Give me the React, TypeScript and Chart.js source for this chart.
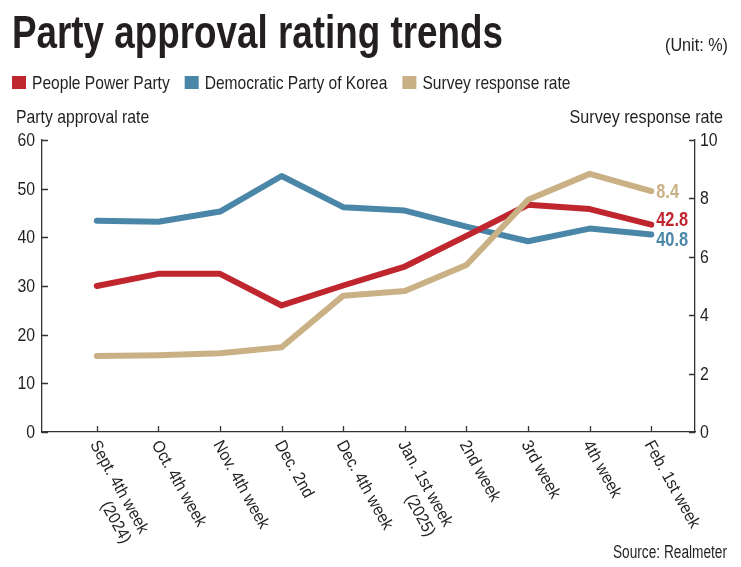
import { useEffect, useRef } from "react";
import { Chart, registerables } from "chart.js";

Chart.register(...registerables);

const categories: string[][] = [
  ["Sept. 4th week", "(2024)"],
  ["Oct. 4th week"],
  ["Nov. 4th week"],
  ["Dec. 2nd"],
  ["Dec. 4th week"],
  ["Jan. 1st week", "(2025)"],
  ["2nd week"],
  ["3rd week"],
  ["4th week"],
  ["Feb. 1st week"],
];
const pppValues = [30.0, 32.5, 32.5, 26.0, 30.1, 34.0, 40.3, 46.7, 45.8, 42.6];
const dpkValues = [43.4, 43.2, 45.3, 52.6, 46.2, 45.5, 42.2, 39.2, 41.8, 40.6];
const responseValues = [2.6, 2.63, 2.7, 2.9, 4.67, 4.83, 5.72, 7.95, 8.84, 8.25];
const endLabels = ["42.8", "40.8", "8.4"];
const leftTicks = [0, 10, 20, 30, 40, 50, 60];
const rightTicks = [0, 2, 4, 6, 8, 10];
const seriesNames = ["People Power Party", "Democratic Party of Korea", "Survey response rate"];

const RED = "#c0262e";
const BLUE = "#4a86a8";
const TAN = "#c9b185";
const INK = "#231f20";
const FONT = '"Liberation Sans", Arial, Helvetica, sans-serif';

function drawText(
  ctx: CanvasRenderingContext2D,
  text: string,
  x: number,
  y: number,
  size: number,
  sx: number,
  align: CanvasTextAlign = "left",
  bold = false,
  baseline: CanvasTextBaseline = "alphabetic"
) {
  ctx.save();
  ctx.font = `${bold ? "bold " : ""}${size}px ${FONT}`;
  ctx.translate(x, y);
  ctx.scale(sx, 1);
  ctx.textAlign = align;
  ctx.textBaseline = baseline;
  ctx.fillText(text, 0, 0);
  ctx.restore();
}

const decor = {
  id: "decor",
  afterDraw(chart: any) {
    const ctx: CanvasRenderingContext2D = chart.ctx;
    const xs = chart.scales.x;
    const yl = chart.scales.y;
    const yr = chart.scales.y2;
    const area = chart.chartArea;
    ctx.save();
    ctx.fillStyle = INK;

    // Title condensed to target width
    ctx.font = `bold 47px ${FONT}`;
    const title = "Party approval rating trends";
    const tw = ctx.measureText(title).width;
    drawText(ctx, title, 12, 48, 47, 491 / tw, "left", true);

    drawText(ctx, "(Unit: %)", 728, 51, 18, 0.9, "right");

    // Legend
    const colors = [RED, BLUE, TAN];
    const lsx = 0.82;
    const lsize = 19;
    let lx = 12;
    seriesNames.forEach((name, i) => {
      ctx.fillStyle = colors[i];
      ctx.fillRect(lx, 76, 14, 13);
      ctx.fillStyle = INK;
      drawText(ctx, name, lx + 20, 89, lsize, lsx, "left");
      ctx.font = `${lsize}px ${FONT}`;
      lx += 20 + ctx.measureText(name).width * lsx + 15;
    });

    // Axis titles
    drawText(ctx, "Party approval rate", 16, 123, 19, 0.83, "left");
    drawText(ctx, "Survey response rate", 723, 123, 19, 0.85, "right");

    // Source
    drawText(ctx, "Source: Realmeter", 727, 558, 18, 0.76, "right");

    // Y tick labels
    leftTicks.forEach((v) => {
      drawText(ctx, String(v), area.left - 7, yl.getPixelForValue(v) + 1, 18, 0.88, "right", false, "middle");
    });
    rightTicks.forEach((v) => {
      drawText(ctx, String(v), area.right + 5, yr.getPixelForValue(v) + 1, 18, 0.88, "left", false, "middle");
    });

    // Inward tick marks
    ctx.strokeStyle = "#333";
    ctx.lineWidth = 1.3;
    ctx.beginPath();
    leftTicks.forEach((v) => {
      const y = Math.round(yl.getPixelForValue(v)) + 0.5;
      ctx.moveTo(area.left, y);
      ctx.lineTo(area.left + 6, y);
    });
    rightTicks.forEach((v) => {
      const y = Math.round(yr.getPixelForValue(v)) + 0.5;
      ctx.moveTo(area.right - 6, y);
      ctx.lineTo(area.right, y);
    });
    categories.forEach((_, i) => {
      const x = Math.round(xs.getPixelForValue(i)) + 0.5;
      ctx.moveTo(x, area.bottom);
      ctx.lineTo(x, area.bottom - 6);
    });
    ctx.stroke();

    // Rotated category labels (reading downward)
    const ang = (61 * Math.PI) / 180;
    const xsx = 0.92;
    ctx.fillStyle = INK;
    categories.forEach((lines, i) => {
      const x = xs.getPixelForValue(i);
      ctx.save();
      ctx.translate(x - 3, area.bottom + 10);
      ctx.rotate(ang);
      ctx.scale(xsx, 1);
      ctx.font = `17px ${FONT}`;
      ctx.textBaseline = "middle";
      ctx.textAlign = "left";
      ctx.fillText(lines[0], 0, 0);
      if (lines.length > 1) {
        const w0 = ctx.measureText(lines[0]).width;
        ctx.textAlign = "right";
        ctx.fillText(lines[1], w0, 20);
      }
      ctx.restore();
    });

    // End value labels
    const last = categories.length - 1;
    const ends = [
      { ds: 0, dy: -4, color: RED },
      { ds: 1, dy: 6, color: BLUE },
      { ds: 2, dy: 2, color: TAN },
    ];
    ends.forEach((e, k) => {
      const pt = chart.getDatasetMeta(e.ds).data[last];
      ctx.fillStyle = e.color;
      drawText(ctx, endLabels[k], pt.x + 5, pt.y + e.dy, 19.5, 0.84, "left", true, "middle");
    });

    ctx.restore();
  },
};

export default function App() {
  const ref = useRef<HTMLCanvasElement | null>(null);
  useEffect(() => {
    if (!ref.current) return;
    const toXY = (arr: number[]) => arr.map((v, i) => ({ x: i, y: v }));
    const lineStyle = {
      borderWidth: 6,
      pointRadius: 0,
      tension: 0,
      borderCapStyle: "round" as const,
      borderJoinStyle: "round" as const,
      fill: false,
    };
    const chart = new Chart(ref.current, {
      type: "line",
      data: {
        datasets: [
          { label: seriesNames[0], data: toXY(pppValues), borderColor: RED, backgroundColor: RED, yAxisID: "y", order: 2, ...lineStyle },
          { label: seriesNames[1], data: toXY(dpkValues), borderColor: BLUE, backgroundColor: BLUE, yAxisID: "y", order: 3, ...lineStyle },
          { label: seriesNames[2], data: toXY(responseValues), borderColor: TAN, backgroundColor: TAN, yAxisID: "y2", order: 1, ...lineStyle },
        ],
      },
      options: {
        animation: false,
        responsive: true,
        maintainAspectRatio: false,
        layout: { padding: { top: 140, left: 0, right: 0, bottom: 0 } },
        plugins: { legend: { display: false }, tooltip: { enabled: false }, title: { display: false } },
        scales: {
          x: {
            type: "linear",
            min: -0.89,
            max: 9.71,
            ticks: { display: false },
            grid: { display: false, drawTicks: false },
            border: { display: true, color: "#333", width: 1.3 },
            afterFit: (s: any) => { s.height = 135; },
          },
          y: {
            type: "linear",
            position: "left",
            min: 0,
            max: 60,
            ticks: { display: false, stepSize: 10 },
            grid: { display: false, drawTicks: false },
            border: { display: true, color: "#333", width: 1.3 },
            afterFit: (s: any) => { s.width = 42; },
          },
          y2: {
            type: "linear",
            position: "right",
            min: 0,
            max: 10,
            ticks: { display: false, stepSize: 2 },
            grid: { display: false, drawTicks: false },
            border: { display: true, color: "#333", width: 1.3 },
            afterFit: (s: any) => { s.width = 46; },
          },
        },
      },
      plugins: [decor],
    });
    return () => chart.destroy();
  }, []);
  return (
    <div style={{ position: "absolute", left: 0, top: 0, width: 741, height: 567, background: "#fff" }}>
      <canvas ref={ref} />
    </div>
  );
}
